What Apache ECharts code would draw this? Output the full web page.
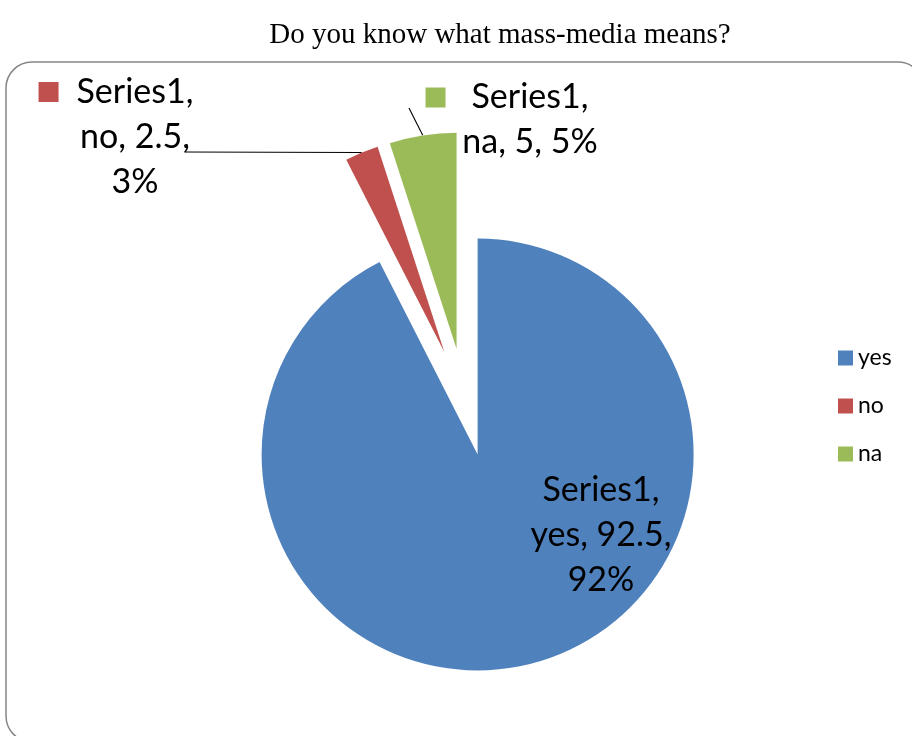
<!DOCTYPE html>
<html>
<head>
<meta charset="utf-8">
<script src="https://cdn.jsdelivr.net/npm/echarts@6/dist/echarts.min.js"></script>
<style>
    html, body { margin: 0; padding: 0; background: #fff; }
    #chart { width: 912px; height: 736px; }
</style>
</head>
<body>
<div id="chart"></div>
<script>
// data
const seriesName = 'Series1'
const categories = ['yes', 'no', 'na']
const values = [92.5, 2.5, 5]
const percentLabels = ['92%', '3%', '5%']
const colors = ['#4F81BD', '#C0504D', '#9BBB59']

// where each data label sits (px) and where its leader line meets it
const labelSpots = [
    { x: 601, y: 535, line: null },
    { x: 135, y: 137, line: [185, 152] },
    { x: 530, y: 120, line: [409, 108] }
]

const pieCenter = [465, 402]
const pieRadius = 216
const explode = 54

const myChart = echarts.init(document.getElementById('chart'))

function labelText(i) {
    const name = categories[i]
    const v = values[i]
    const p = percentLabels[i]
    if (i === 0) {
        return '{t|' + seriesName + ',}\n{t|' + name + ', ' + v + ',}\n{t|' + p + '}'
    }
    const first = '{sq' + i + '|}{g' + i + '|}{t|' + seriesName + ',}{sp' + i + '|}'
    if (i === 1) {
        return first + '\n{t|' + name + ', ' + v + ',}\n{t|' + p + '}'
    }
    return first + '\n{t|' + name + ', ' + v + ', ' + p + '}'
}

const rich = {
    t: { fontFamily: 'Lato', fontSize: 34, lineHeight: 45, color: '#000' },
    g1: { width: 18 },
    sp1: { width: 38 },
    g2: { width: 26 },
    sp2: { width: 46 },
    sq1: { width: 20, height: 20, backgroundColor: colors[1], verticalAlign: 'middle' },
    sq2: { width: 20, height: 20, backgroundColor: colors[2], verticalAlign: 'middle' }
}

// every slice is pulled out from the centre (exploded pie), so each slice
// gets its own pie series whose centre is shifted along the slice middle
const total = values.reduce((a, b) => a + b, 0)
let acc = 0
const series = categories.map((c, i) => {
    const mid = (acc + values[i] / 2) / total * Math.PI * 2
    acc += values[i]
    return {
        name: seriesName,
        type: 'pie',
        center: [pieCenter[0] + explode * Math.sin(mid), pieCenter[1] - explode * Math.cos(mid)],
        radius: pieRadius,
        startAngle: 90,
        clockwise: true,
        avoidLabelOverlap: false,
        emphasis: { disabled: true },
        label: {
            show: true,
            color: '#000',
            align: 'center',
            verticalAlign: 'middle',
            rich: rich
        },
        labelLine: {
            length: 10,
            length2: 10,
            lineStyle: { color: '#000', width: 1.1 }
        },
        labelLayout: function (params) {
            const s = labelSpots[params.dataIndex]
            const out = { x: s.x, y: s.y, align: 'center', verticalAlign: 'middle' }
            if (s.line && params.labelLinePoints) {
                // keep the library's point on the slice edge, run straight to the label
                const p0 = params.labelLinePoints[0]
                out.labelLinePoints = [
                    p0,
                    [(p0[0] + s.line[0]) / 2, (p0[1] + s.line[1]) / 2],
                    s.line
                ]
            }
            return out
        },
        data: categories.map((name, j) => ({
            name: name,
            value: values[j],
            itemStyle: { color: j === i ? colors[j] : 'rgba(0,0,0,0)' },
            label: {
                show: j === i,
                position: labelSpots[j].line ? 'outside' : 'inside',
                formatter: labelText(j)
            },
            labelLine: { show: j === i && !!labelSpots[j].line }
        }))
    }
})

const option = {
    backgroundColor: '#fff',
    animation: false,
    title: {
        text: 'Do you know what mass-media means?',
        left: 495,
        top: 16,
        textAlign: 'center',
        textStyle: {
            fontFamily: 'Liberation Serif',
            fontWeight: 'normal',
            fontSize: 29,
            color: '#000'
        }
    },
    legend: {
        orient: 'vertical',
        left: 838,
        top: 346,
        padding: 0,
        itemWidth: 15,
        itemHeight: 15,
        itemGap: 24,
        icon: 'rect',
        data: categories.map((c, i) => ({ name: c, itemStyle: { color: colors[i] } })),
        textStyle: {
            fontFamily: 'Lato',
            fontSize: 23,
            lineHeight: 24,
            color: '#000'
        }
    },
    graphic: [
        {
            type: 'rect',
            silent: true,
            z: -1,
            shape: { x: 6, y: 62, width: 918, height: 680, r: 26 },
            style: { fill: 'none', stroke: '#868686', lineWidth: 1.5 }
        }
    ],
    series: series
}

myChart.setOption(option)
</script>
</body>
</html>
